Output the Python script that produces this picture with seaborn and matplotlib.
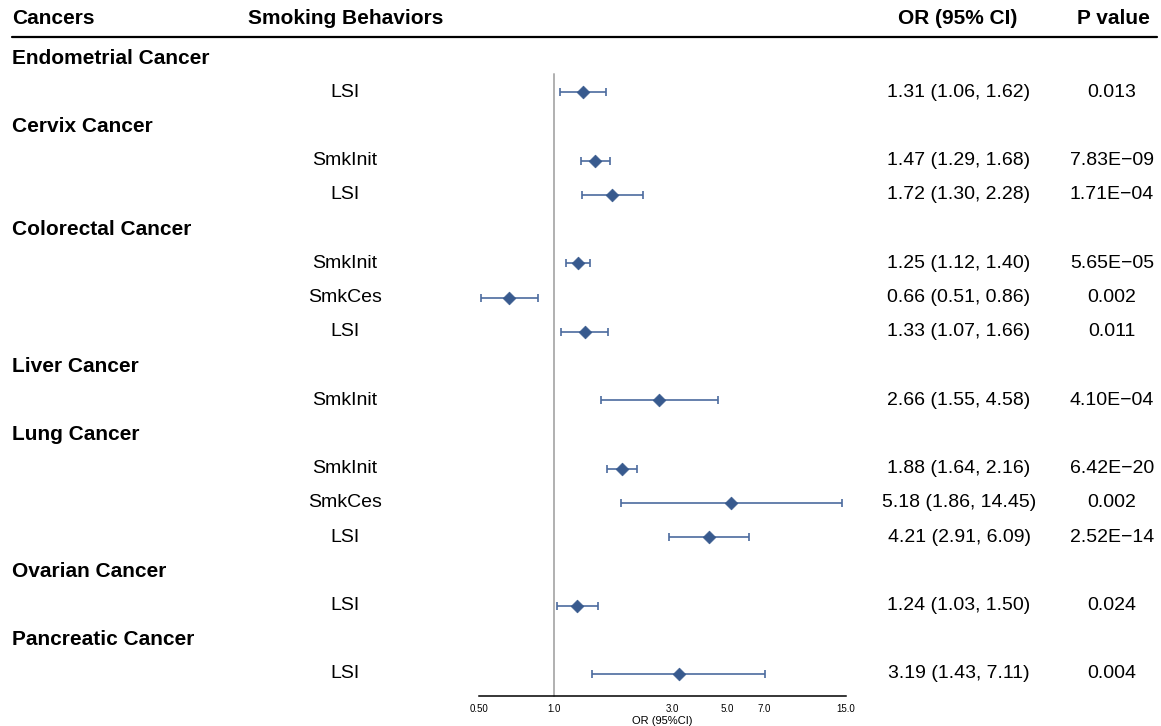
import numpy as np
import pandas as pd
import seaborn as sns
import matplotlib.pyplot as plt
import matplotlib.transforms as mtransforms

# values
cancers = ["Endometrial Cancer", "Cervix Cancer", "Colorectal Cancer", "Liver Cancer",
           "Lung Cancer", "Ovarian Cancer", "Pancreatic Cancer"]
behaviors = [["LSI"], ["SmkInit", "LSI"], ["SmkInit", "SmkCes", "LSI"], ["SmkInit"],
             ["SmkInit", "SmkCes", "LSI"], ["LSI"], ["LSI"]]
or_vals = [[1.31], [1.47, 1.72], [1.25, 0.66, 1.33], [2.66], [1.88, 5.18, 4.21], [1.24], [3.19]]
ci_low = [[1.06], [1.29, 1.30], [1.12, 0.51, 1.07], [1.55], [1.64, 1.86, 2.91], [1.03], [1.43]]
ci_high = [[1.62], [1.68, 2.28], [1.40, 0.86, 1.66], [4.58], [2.16, 14.45, 6.09], [1.50], [7.11]]
p_vals = [["0.013"], ["7.83E\u221209", "1.71E\u221204"], ["5.65E\u221205", "0.002", "0.011"],
          ["4.10E\u221204"], ["6.42E\u221220", "0.002", "2.52E\u221214"], ["0.024"], ["0.004"]]
tick_vals = [0.5, 1.0, 3.0, 5.0, 7.0, 15.0]
tick_labels = ["0.50", "1.0", "3.0", "5.0", "7.0", "15.0"]

# build a long table, one row per line of the forest plot
rows = []
r = 0
for c, bs, ors, los, his, ps in zip(cancers, behaviors, or_vals, ci_low, ci_high, p_vals):
    rows.append(dict(row=r, cancer=c, behavior=None, OR=np.nan, lo=np.nan, hi=np.nan, p=None))
    r += 1
    for b, o, lo, hi, p in zip(bs, ors, los, his, ps):
        rows.append(dict(row=r, cancer=None, behavior=b, OR=o, lo=lo, hi=hi, p=p))
        r += 1
df = pd.DataFrame(rows)
est = df.dropna(subset=["OR"])

sns.set_style("white")
plt.rcParams["font.family"] = ["Liberation Sans", "DejaVu Sans"]
plt.rcParams["text.color"] = "black"
plt.rcParams["axes.labelcolor"] = "black"

W, H = 1161, 726
fig = plt.figure(figsize=(W / 100, H / 100), dpi=100)
ax = fig.add_axes([479 / W, (H - 696) / H, (846 - 479) / W, 696 / H])

n = len(df)
step = (674 - 58) / (n - 1)
top = -58 / step
bottom = (696 - 58) / step
ax.set_ylim(bottom, top)
ax.set_xscale("log")
ax.set_xlim(0.5, 15)

# reference line at OR = 1
ax.plot([1, 1], [bottom, 0.47], color="#b0b0b0", lw=1.4, zorder=1, clip_on=False)

ax.errorbar(est["OR"], est["row"], xerr=[est["OR"] - est["lo"], est["hi"] - est["OR"]],
            fmt="none", ecolor="#4c6b9e", elinewidth=1.2, capsize=3, capthick=1.2, zorder=2)
sns.scatterplot(data=est, x="OR", y="row", marker="D", s=42, color="#385a8e",
                edgecolor="#385a8e", linewidth=0.5, zorder=3, ax=ax, legend=False)

ax.set_xticks(tick_vals)
ax.set_xticklabels(tick_labels)
ax.xaxis.set_minor_locator(plt.NullLocator())
ax.set_yticks([])
ax.tick_params(axis="x", direction="in", length=5, width=1, labelsize=7, pad=6, colors="black")
ax.set_xlabel("OR (95%CI)", fontsize=8, labelpad=1)
ax.set_ylabel("")
for s in ["top", "right", "left"]:
    ax.spines[s].set_visible(False)
ax.spines["bottom"].set_color("black")
ax.spines["bottom"].set_linewidth(1.1)

# table text columns
tr = mtransforms.blended_transform_factory(fig.transFigure, ax.transData)
hdr_y = (18 - 58) / step
ax.text(12 / W, hdr_y, "Cancers", transform=tr, ha="left", va="center",
        fontsize=15, fontweight="bold", clip_on=False)
ax.text(248 / W, hdr_y, "Smoking Behaviors", transform=tr, ha="left", va="center",
        fontsize=15, fontweight="bold", clip_on=False)
ax.text(958 / W, hdr_y, "OR (95% CI)", transform=tr, ha="center", va="center",
        fontsize=15, fontweight="bold", clip_on=False)
ax.text(1113 / W, hdr_y, "P value", transform=tr, ha="center", va="center",
        fontsize=15, fontweight="bold", clip_on=False)
line_y = (37 - 58) / step
ax.plot([12 / W, 1157 / W], [line_y, line_y], transform=tr, color="black", lw=1.6, clip_on=False)

for _, d in df.iterrows():
    if d["cancer"] is not None:
        ax.text(12 / W, d["row"], d["cancer"], transform=tr, ha="left", va="center",
                fontsize=15, fontweight="bold", clip_on=False)
    else:
        ax.text(345 / W, d["row"], d["behavior"], transform=tr, ha="center", va="center",
                fontsize=14, clip_on=False)
        ax.text(959 / W, d["row"], f"{d['OR']:.2f} ({d['lo']:.2f}, {d['hi']:.2f})", transform=tr,
                ha="center", va="center", fontsize=14, clip_on=False)
        ax.text(1112 / W, d["row"], d["p"], transform=tr, ha="center", va="center",
                fontsize=14, clip_on=False)

fig.savefig("out.png", dpi=100)
